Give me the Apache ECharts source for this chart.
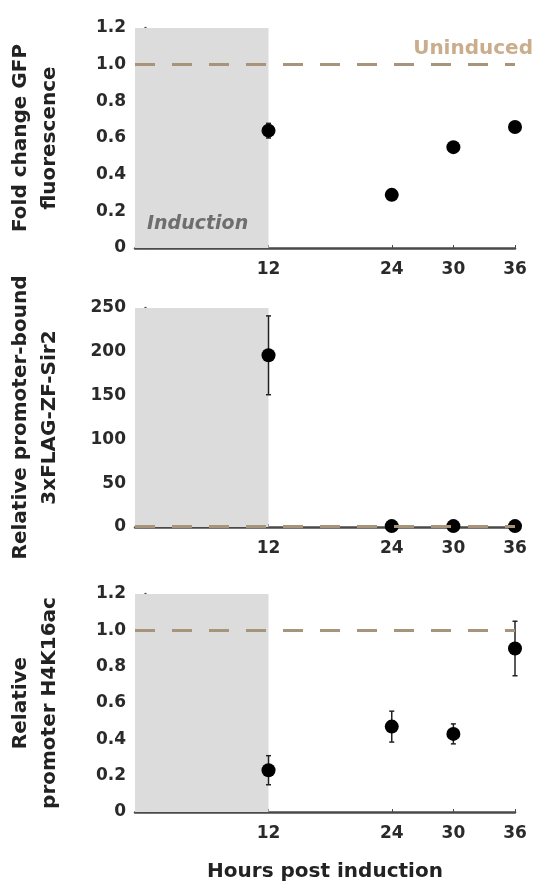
<!DOCTYPE html>
<html>
<head>
<meta charset="utf-8">
<script src="https://cdn.jsdelivr.net/npm/echarts@6/dist/echarts.min.js"></script>
<style>
  html, body { margin: 0; padding: 0; background: #fff; }
  #chart { width: 538px; height: 881px; }
</style>
</head>
<body>
<div id="chart"></div>
<script>
// data
var hours = [12, 24, 30, 36];
var xTicks = [12, 24, 30, 36];
var gfp = [0.64, 0.29, 0.55, 0.66];
var gfpErr = [0.04, 0.01, 0.015, 0.015];
var sir2 = [196, 1, 1, 1];
var sir2Err = [45, 0.5, 0.5, 0.5];
var h4 = [0.23, 0.47, 0.43, 0.90];
var h4Err = [0.08, 0.085, 0.055, 0.15];
var uninduced = 1;
var inductionEnd = 12;

var chart = echarts.init(document.getElementById('chart'));

var axisColor = '#4a4a4a';
var labelColor = '#2a2a2a';
var font = 'DejaVu Sans, sans-serif';

function pairs(ys) {
    return hours.map(function (h, i) { return [h, ys[i]]; });
}
function errData(ys, es) {
    return hours.map(function (h, i) { return [h, ys[i] - es[i], ys[i] + es[i]]; });
}

function errorSeries(idx, ys, es) {
    return {
        type: 'custom',
        xAxisIndex: idx,
        yAxisIndex: idx,
        z: 3,
        data: errData(ys, es),
        renderItem: function (params, api) {
            var x = api.value(0);
            var lo = api.coord([x, api.value(1)]);
            var hi = api.coord([x, api.value(2)]);
            var cap = 2.5;
            var st = { stroke: '#222', lineWidth: 1.5 };
            return {
                type: 'group',
                children: [
                    { type: 'line', shape: { x1: lo[0], y1: lo[1], x2: hi[0], y2: hi[1] }, style: st },
                    { type: 'line', shape: { x1: lo[0] - cap, y1: lo[1], x2: lo[0] + cap, y2: lo[1] }, style: st },
                    { type: 'line', shape: { x1: hi[0] - cap, y1: hi[1], x2: hi[0] + cap, y2: hi[1] }, style: st }
                ]
            };
        }
    };
}

function pointSeries(idx, ys) {
    return {
        type: 'scatter',
        xAxisIndex: idx,
        yAxisIndex: idx,
        z: 4,
        symbolSize: 14,
        itemStyle: { color: '#000', opacity: 1 },
        data: pairs(ys),
        markArea: {
            silent: true,
            itemStyle: { color: '#dcdcdc' },
            data: [[{ xAxis: -1 }, { xAxis: inductionEnd }]]
        },
        markLine: {
            silent: true,
            symbol: 'none',
            label: { show: false },
            lineStyle: { color: '#a8937b', type: [20, 17], width: 3, opacity: 1 },
            data: [{ yAxis: uninduced }]
        }
    };
}

var grids = [
    { left: 135, right: 23, top: 28, height: 220, outerBoundsMode: 'none' },
    { left: 135, right: 23, top: 308, height: 219, outerBoundsMode: 'none' },
    { left: 135, right: 23, top: 594, height: 218, outerBoundsMode: 'none' }
];

var xAxes = grids.map(function (g, i) {
    return {
        type: 'value',
        gridIndex: i,
        min: -1,
        max: 36,
        splitLine: { show: false },
        axisLine: { onZero: false, lineStyle: { color: axisColor, width: 2.5 } },
        axisTick: { show: true, customValues: xTicks, inside: true, length: 3, lineStyle: { color: axisColor } },
        axisLabel: {
            customValues: xTicks,
            color: labelColor,
            fontFamily: font,
            fontWeight: 'bold',
            fontSize: 17,
            margin: 13
        },
        name: i === 2 ? 'Hours post induction' : '',
        nameLocation: 'middle',
        nameGap: 50,
        nameTextStyle: { color: '#222', fontFamily: font, fontWeight: 'bold', fontSize: 20 }
    };
});

var yNames = [
    'Fold change GFP\nfluorescence',
    'Relative promoter-bound\n3xFLAG-ZF-Sir2',
    'Relative\npromoter H4K16ac'
];
var yMax = [1.2, 250, 1.2];
var yInt = [0.2, 50, 0.2];

var yAxes = grids.map(function (g, i) {
    return {
        type: 'value',
        gridIndex: i,
        min: 0,
        max: yMax[i],
        interval: yInt[i],
        splitLine: { show: false },
        axisLine: { show: true, lineStyle: { color: axisColor, width: 2.5 } },
        axisTick: { show: true, length: 3, lineStyle: { color: axisColor } },
        axisLabel: {
            color: labelColor,
            fontFamily: font,
            fontWeight: 'bold',
            fontSize: 17,
            margin: 9,
            formatter: function (v) {
                if (v === 0) return '0';
                return yMax[i] > 10 ? String(v) : v.toFixed(1);
            }
        },
        name: yNames[i],
        nameLocation: 'middle',
        nameRotate: 90,
        nameGap: 71,
        nameTextStyle: { color: '#222', fontFamily: font, fontWeight: 'bold', fontSize: 20, lineHeight: 29 }
    };
});

chart.setOption({
    animation: false,
    backgroundColor: '#fff',
    grid: grids,
    xAxis: xAxes,
    yAxis: yAxes,
    graphic: [
        {
            type: 'text', right: 5, top: 39, z: 10,
            style: { text: 'Uninduced', fill: '#c9ad8c', font: 'bold 20px DejaVu Sans, sans-serif' }
        },
        {
            type: 'text', left: 147, top: 215, z: 10,
            style: { text: 'Induction', fill: '#6e6e6e', font: 'italic bold 19px DejaVu Sans, sans-serif' }
        }
    ],
    series: [
        pointSeries(0, gfp), errorSeries(0, gfp, gfpErr),
        pointSeries(1, sir2), errorSeries(1, sir2, sir2Err),
        pointSeries(2, h4), errorSeries(2, h4, h4Err)
    ]
});
</script>
</body>
</html>
